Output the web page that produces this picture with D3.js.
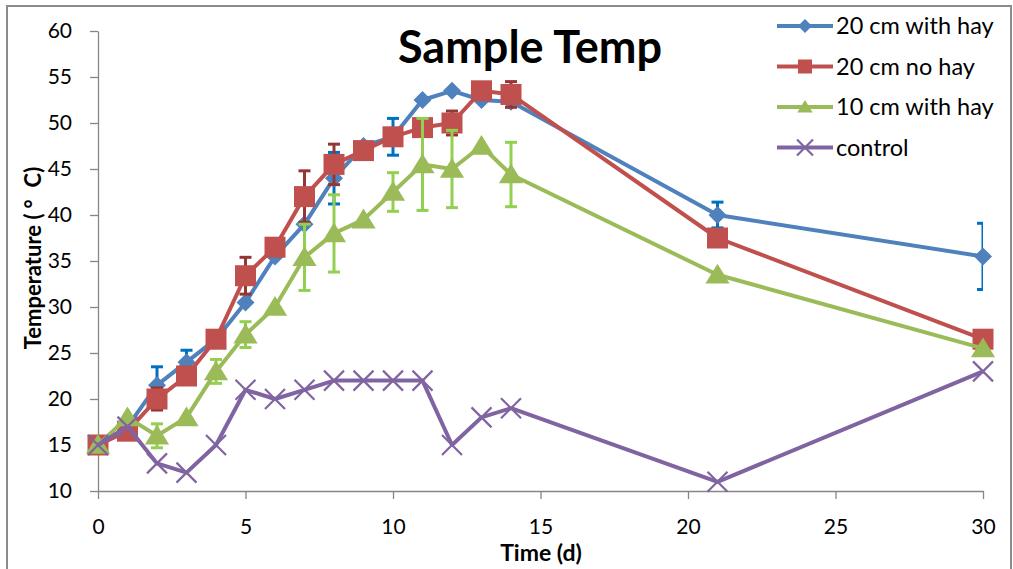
<!DOCTYPE html>
<html>
<head>
<meta charset="utf-8">
<script src="https://cdn.jsdelivr.net/npm/d3@7"></script>
<style>
  body { margin: 0; background: #fff; }
  svg { display: block; font-family: Lato, "Open Sans", sans-serif; }
</style>
</head>
<body>
<svg width="1013" height="569"></svg>
<script>
// data
var days = [0, 1, 2, 3, 4, 5, 6, 7, 8, 9, 10, 11, 12, 13, 14, 21, 30];

var hay20 = [15, 17, 21.5, 24, 26.5, 30.5, 35.5, 39, 44, 47.5, 48.5, 52.5, 53.5, 52.5, 52.3, 40, 35.5];
var hay20Err = [0, 0, 2, 1.3, 0, 0, 0, 0, 2.8, 0, 2, 0, 0, 0, 0, 1.4, 3.6];

var noHay20 = [15, 16.5, 20, 22.5, 26.5, 33.4, 36.5, 42, 45.5, 47, 48.5, 49.5, 50, 53.5, 53.1, 37.5, 26.5];
var noHay20Err = [0, 0, 1.2, 0, 0, 2, 0, 2.8, 2.2, 0, 0, 0, 1.3, 0, 1.4, 0, 0];

var hay10 = [15, 18, 16, 18, 23, 27, 30, 35.4, 38, 39.5, 42.5, 45.5, 45, 47.5, 44.4, 33.5, 25.5];
var hay10Err = [0, 0, 1.3, 0, 1.3, 1.4, 0, 3.6, 4.2, 0, 2.1, 5, 4.2, 0, 3.5, 0, 0];

var control = [15, 17, 13, 12, 15, 21, 20, 21, 22, 22, 22, 22, 15, 18, 19, 11, 23];

var xTicks = [0, 5, 10, 15, 20, 25, 30];
var yTicks = [10, 15, 20, 25, 30, 35, 40, 45, 50, 55, 60];

var series = [
  {name: "20 cm with hay", values: hay20, err: hay20Err, color: "#4F81BD", errColor: "#0070C0", marker: "diamond"},
  {name: "20 cm no hay", values: noHay20, err: noHay20Err, color: "#C0504D", errColor: "#943634", marker: "square"},
  {name: "10 cm with hay", values: hay10, err: hay10Err, color: "#9BBB59", errColor: "#92D050", marker: "triangle"},
  {name: "control", values: control, err: null, color: "#8064A2", errColor: null, marker: "cross"}
];

var svg = d3.select("svg");
var axisColor = "#868686";

// outer frame
svg.append("rect")
    .attr("x", 7).attr("y", 6)
    .attr("width", 1004).attr("height", 620)
    .attr("fill", "none")
    .attr("stroke", "#8c8c8c")
    .attr("stroke-width", 2);

var x = d3.scaleLinear().domain([0, 30]).range([98, 983]);
var y = d3.scaleLinear().domain([10, 60]).range([491, 31]);

svg.append("defs").append("clipPath").attr("id", "plot")
  .append("rect")
    .attr("x", 98).attr("y", 31)
    .attr("width", 885).attr("height", 460);

// axes
var xAxis = svg.append("g")
    .attr("transform", "translate(0,491)")
    .call(d3.axisBottom(x).tickValues(xTicks).tickSize(8).tickPadding(20).tickSizeOuter(0));
var yAxis = svg.append("g")
    .attr("transform", "translate(98,0)")
    .call(d3.axisLeft(y).tickValues(yTicks).tickSize(8).tickPadding(18).tickSizeOuter(0));

[xAxis, yAxis].forEach(g => {
  g.select(".domain").attr("stroke", axisColor).attr("stroke-width", 1.3);
  g.selectAll(".tick line").attr("stroke", axisColor).attr("stroke-width", 1.3);
  g.selectAll(".tick text")
      .attr("fill", "#000")
      .style("font-size", "21px")
      .style("font-family", "Lato, sans-serif");
});

// titles
svg.append("text")
    .attr("x", 530).attr("y", 63)
    .attr("text-anchor", "middle")
    .style("font-size", "45px")
    .style("font-weight", "bold")
    .text("Sample Temp");

svg.append("text")
    .attr("x", 541).attr("y", 561)
    .attr("text-anchor", "middle")
    .style("font-size", "23px")
    .style("font-weight", "bold")
    .text("Time (d)");

var yTitle = svg.append("text")
    .attr("transform", "translate(41,258) rotate(-90)")
    .attr("text-anchor", "middle")
    .style("font-size", "22px")
    .style("font-weight", "bold");
yTitle.append("tspan").text("Temperature (");
yTitle.append("tspan").attr("dx", 5).text("\u00B0");
yTitle.append("tspan").attr("dx", 12).text("C)");

function drawMarker(g, type, color, s) {
  if (type == "diamond") {
    g.append("path")
        .attr("d", `M0,${-s}L${s},0L0,${s}L${-s},0Z`)
        .attr("fill", color);
  } else if (type == "square") {
    g.append("rect")
        .attr("x", -s).attr("y", -s)
        .attr("width", 2 * s).attr("height", 2 * s)
        .attr("fill", color);
  } else if (type == "triangle") {
    g.append("path")
        .attr("d", `M0,${-s}L${s * 1.1},${s * 0.8}L${-s * 1.1},${s * 0.8}Z`)
        .attr("fill", color);
  } else {
    g.append("path")
        .attr("d", `M${-s},${-s}L${s},${s}M${-s},${s}L${s},${-s}`)
        .attr("stroke", color)
        .attr("stroke-width", 2.2)
        .attr("fill", "none");
  }
}

var line = d3.line()
    .x((d, i) => x(days[i]))
    .y(d => y(d));

var sizes = {diamond: 9, square: 10.5, triangle: 11, cross: 10};

series.forEach(s => {
  var g = svg.append("g");

  if (s.err) {
    var eb = g.append("g").attr("clip-path", "url(#plot)")
      .selectAll("g")
      .data(s.values.map((v, i) => ({day: days[i], v: v, e: s.err[i]})).filter(d => d.e > 0))
      .join("g")
        .attr("stroke", s.errColor)
        .attr("stroke-width", 3)
        .attr("fill", "none");
    eb.append("line")
        .attr("x1", d => x(d.day)).attr("x2", d => x(d.day))
        .attr("y1", d => y(d.v - d.e)).attr("y2", d => y(d.v + d.e));
    eb.append("line")
        .attr("x1", d => x(d.day) - 6).attr("x2", d => x(d.day) + 6)
        .attr("y1", d => y(d.v + d.e)).attr("y2", d => y(d.v + d.e));
    eb.append("line")
        .attr("x1", d => x(d.day) - 6).attr("x2", d => x(d.day) + 6)
        .attr("y1", d => y(d.v - d.e)).attr("y2", d => y(d.v - d.e));
  }

  g.append("path")
      .datum(s.values)
      .attr("d", line)
      .attr("fill", "none")
      .attr("stroke", s.color)
      .attr("stroke-width", 4)
      .attr("stroke-linejoin", "round");

  s.values.forEach((v, i) => {
    var m = g.append("g").attr("transform", `translate(${x(days[i])},${y(v)})`);
    drawMarker(m, s.marker, s.color, sizes[s.marker]);
  });
});

// legend
var legend = svg.append("g");
series.forEach((s, i) => {
  var row = legend.append("g").attr("transform", `translate(0,${26 + i * 40.5})`);
  row.append("line")
      .attr("x1", 777).attr("x2", 833)
      .attr("stroke", s.color).attr("stroke-width", 4);
  var m = row.append("g").attr("transform", "translate(805,0)");
  drawMarker(m, s.marker, s.color, s.marker == "cross" ? 8 : 7);
  row.append("text")
      .attr("x", 836).attr("y", 8)
      .style("font-size", "23.5px")
      .text(s.name);
});
</script>
</body>
</html>
